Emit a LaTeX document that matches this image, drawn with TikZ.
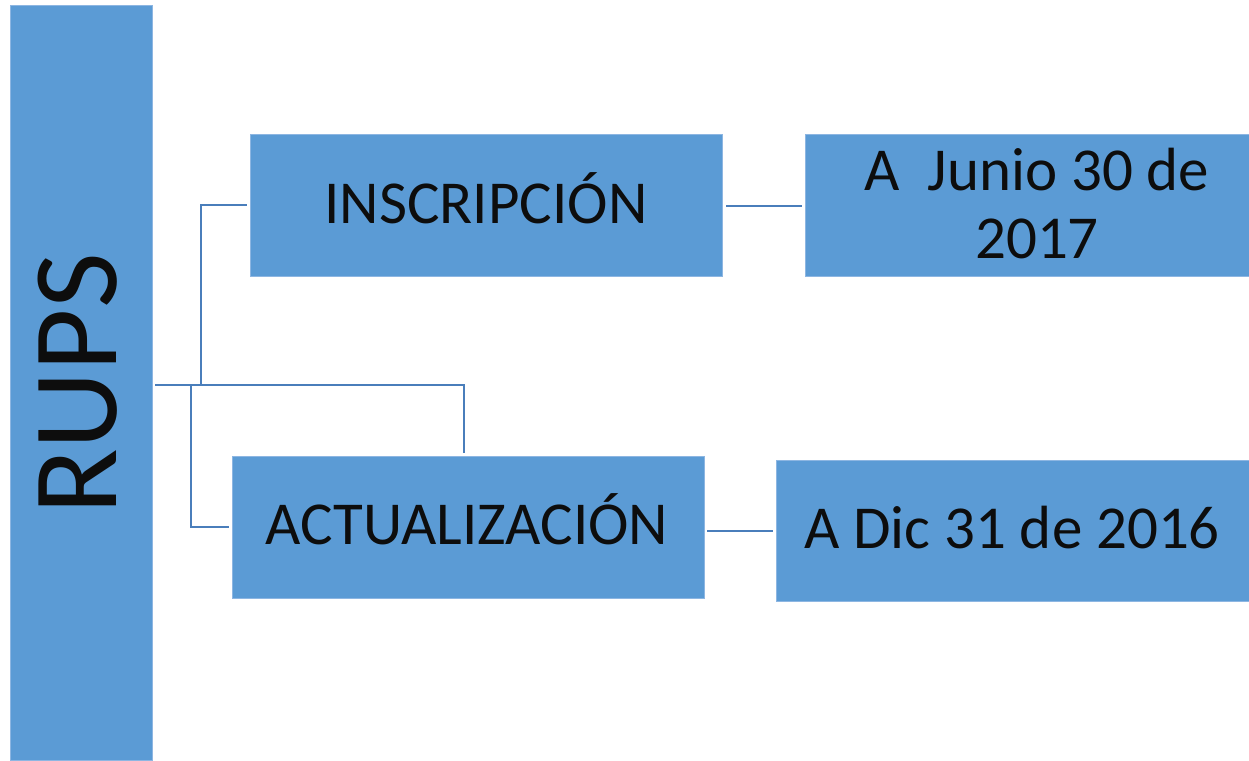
\documentclass[tikz,border=0pt]{standalone}
\usepackage{fontspec}
\setmainfont{Carlito}
\definecolor{boxblue}{HTML}{5B9BD5}
\definecolor{boxedge}{HTML}{8DB6E2}
\definecolor{linkblue}{HTML}{4A7EBB}
\definecolor{ink}{HTML}{0D0D0D}
\begin{document}
\begin{tikzpicture}[x=1pt,y=-1pt,
  blockbox/.style={fill=boxblue,draw=boxedge,line width=0.8pt},
  lbl/.style={text=ink,inner sep=0pt,font=\fontsize{61}{68}\selectfont,align=center,anchor=base},
  link/.style={draw=linkblue,line width=2.4pt}]
\useasboundingbox (0,0) rectangle (1249,760);
% boxes
\draw[blockbox] (10,5) rectangle (152,760);
\coordinate (rupsR) at (155,385);
\node[rotate=90,text=ink,inner sep=0pt,font=\fontsize{121}{121}\selectfont] (rups) at (78,384) {RUPS};

\draw[blockbox] (250,134) rectangle (722,276);
\node[lbl] (ins) at (486,223) {INSCRIPCIÓN};
\draw[blockbox] (805,134) rectangle (1260,276);
\node[lbl] (jun) at (1037,258) {A\ \ Junio 30 de\\2017};

\draw[blockbox] (232,456) rectangle (704,598);
\node[lbl] (act) at (467,544) {ACTUALIZACIÓN};
\draw[blockbox] (776,460) rectangle (1260,601);
\node[lbl] (dic) at (1012,548) {A Dic 31 de 2016};

% connector anchor points
\coordinate (insL) at (247,205);
\coordinate (insR) at (726,206);
\coordinate (junL) at (802,206);
\coordinate (actL) at (229,527);
\coordinate (actT) at (464,453);
\coordinate (actR) at (707,531);
\coordinate (dicL) at (773,531);

\draw[link] (rupsR) -- (464,385) -- (actT);
\draw[link] (201,385) -- (201,205) -- (insL);
\draw[link] (191,385) -- (191,527) -- (actL);
\draw[link] (insR) -- (junL);
\draw[link] (actR) -- (dicL);
\end{tikzpicture}
\end{document}
